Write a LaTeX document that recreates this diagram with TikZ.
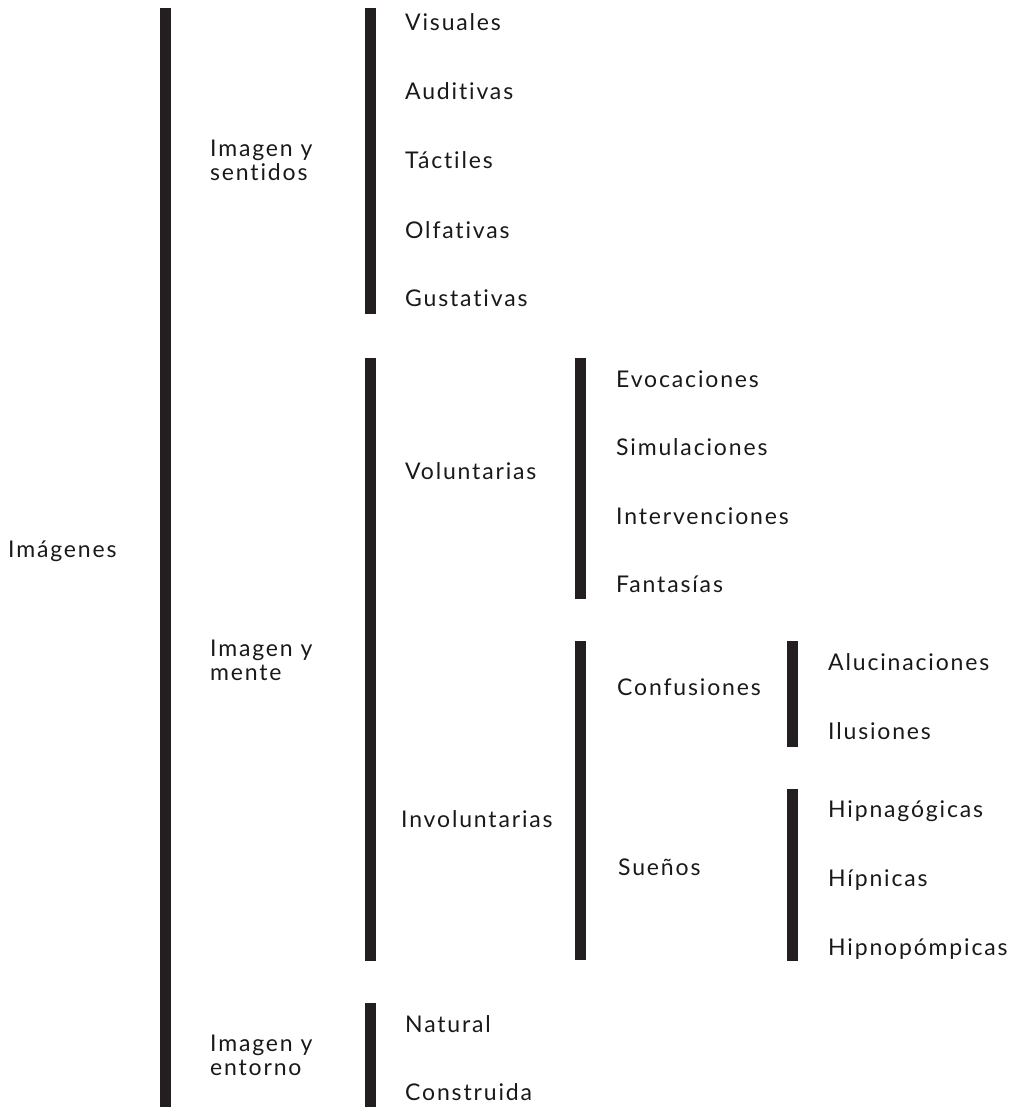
\documentclass[tikz,border=0pt]{standalone}
\usepackage{fontspec}
\setmainfont{Lato}[LetterSpace=8,RawFeature={-liga;-dlig;-clig}]
\definecolor{barcol}{HTML}{231F20}
\begin{document}
\begin{tikzpicture}[x=1pt,y=-1pt,
  bar/.style={fill=barcol},
  lbl/.style={anchor=base west,inner sep=0pt,text=black!90,font=\fontsize{23}{24}\selectfont}]
\useasboundingbox (0,0) rectangle (1019,1107);

% brackets of the classification
\fill[bar] (160,8) rectangle (171,1107);
\fill[bar] (365,8) rectangle (376,314);
\fill[bar] (365,358) rectangle (376,961);
\fill[bar] (365,1003) rectangle (376,1107);
\fill[bar] (575,358) rectangle (586,599);
\fill[bar] (575,641) rectangle (586,960);
\fill[bar] (787,641) rectangle (798,747);
\fill[bar] (787,789) rectangle (798,961);

% root
\node[lbl] (imagenes) at (8,557) {Imágenes};

% first level
\node[lbl] (sentidosA) at (210,157) {Imagen y};
\node[lbl] (sentidosB) at (210,181) {sentidos};
\node[lbl] (menteA) at (210,656) {Imagen y};
\node[lbl] (menteB) at (210,680) {mente};
\node[lbl] (entornoA) at (210,1051) {Imagen y};
\node[lbl] (entornoB) at (210,1075) {entorno};

% senses
\node[lbl] (visuales) at (405,31) {Visuales};
\node[lbl] (auditivas) at (405,100) {Auditivas};
\node[lbl] (tactiles) at (405,169) {Táctiles};
\node[lbl] (olfativas) at (405,238) {Olfativas};
\node[lbl] (gustativas) at (405,306) {Gustativas};

% mind
\node[lbl] (voluntarias) at (405,479) {Voluntarias};
\node[lbl] (involuntarias) at (401,827) {Involuntarias};
\node[lbl] (evocaciones) at (616,387) {Evocaciones};
\node[lbl] (simulaciones) at (616,455) {Simulaciones};
\node[lbl] (intervenciones) at (616,524) {Intervenciones};
\node[lbl] (fantasias) at (616,592) {Fantasías};
\node[lbl] (confusiones) at (617,695) {Confusiones};
\node[lbl] (suenos) at (618,875) {Sueños};
\node[lbl] (alucinaciones) at (828,670) {Alucinaciones};
\node[lbl] (ilusiones) at (828,739) {Ilusiones};
\node[lbl] (hipnagogicas) at (828,817) {Hipnagógicas};
\node[lbl] (hipnicas) at (828,886) {Hípnicas};
\node[lbl] (hipnopompicas) at (828,955) {Hipnopómpicas};

% environment
\node[lbl] (natural) at (405,1032) {Natural};
\node[lbl] (construida) at (405,1100) {Construida};
\end{tikzpicture}
\end{document}
